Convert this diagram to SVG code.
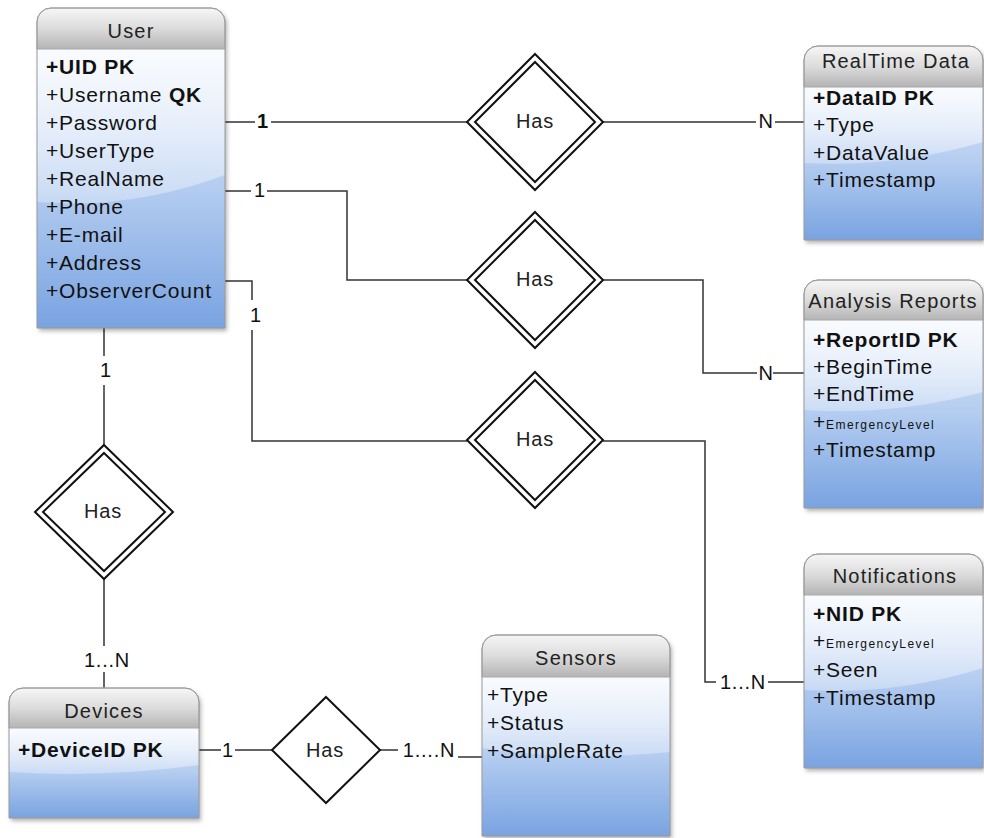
<svg xmlns="http://www.w3.org/2000/svg" width="984" height="838" viewBox="0 0 984 838">
<defs>
<linearGradient id="gBody" x1="0" y1="0" x2="0" y2="1">
<stop offset="0" stop-color="#dfeafa"/>
<stop offset="0.5" stop-color="#b3ccf0"/>
<stop offset="1" stop-color="#79a3e1"/>
</linearGradient>
<linearGradient id="gGloss" x1="0" y1="0" x2="0" y2="1">
<stop offset="0" stop-color="#ffffff" stop-opacity="0.8"/>
<stop offset="1" stop-color="#ffffff" stop-opacity="0.3"/>
</linearGradient>
<linearGradient id="gHead" x1="0" y1="0" x2="0" y2="1">
<stop offset="0" stop-color="#f6f6f6"/>
<stop offset="0.5" stop-color="#dcdcdc"/>
<stop offset="1" stop-color="#b4b4b4"/>
</linearGradient>
<filter id="sh" x="-10%" y="-10%" width="125%" height="125%">
<feDropShadow dx="2" dy="3" stdDeviation="2" flood-color="#000" flood-opacity="0.3"/>
</filter>
<style>
text{font-family:"Liberation Sans",Arial,Helvetica,sans-serif;font-size:21px;fill:#111;letter-spacing:0.8px}
.b{font-weight:bold}
.h{text-anchor:middle;fill:#222;font-size:20px;letter-spacing:1.2px}
.sm{font-size:12px;letter-spacing:1.4px}
.m{text-anchor:middle;font-size:20px}
.has{text-anchor:middle;font-size:20px;letter-spacing:0.8px;fill:#222}
.box{fill:#fff;filter:url(#sh)}
.body{fill:url(#gBody)}
.gloss{fill:url(#gGloss)}
.head{fill:url(#gHead);stroke:#a8a8a8;stroke-width:1}
.frame{fill:none;stroke:#9a9a9a;stroke-width:1}
.c{fill:none;stroke:#333;stroke-width:1.5}
.d{fill:#fff;stroke:#111;stroke-width:2;stroke-linejoin:miter}
.di{fill:none;stroke:#111;stroke-width:2}
</style>
</defs>
<rect width="984" height="838" fill="#fff"/>

<g id="connectors">
<path class="c" d="M225,122 H255 M271,122 H467 M603,122 H756 M775,122 H804"/>
<path class="c" d="M225,191 H251 M267,191 H347 V280 H467 M603,280 H703 V373 H757 M773,373 H804"/>
<path class="c" d="M225,281 H252 V300 M252,330 V441 H467 M603,441 H705 V682 H716 M768,682 H804"/>
<path class="c" d="M104,328 V356 M104,385 V445 M104,579 V646 M104,672 V688"/>
<path class="c" d="M199,750 H221 M235,750 H272 M380,750 H398 M458,757 H482"/>
<text class="m b" x="263" y="128">1</text>
<text class="m" x="260" y="197">1</text>
<text class="m" x="256" y="322">1</text>
<text class="m" x="766" y="128">N</text>
<text class="m" x="766" y="380">N</text>
<text class="m" x="743" y="689">1...N</text>
<text class="m" x="106" y="377">1</text>
<text class="m" x="107" y="667">1...N</text>
<text class="m" x="228" y="757">1</text>
<text class="m" x="429" y="757">1....N</text>
</g>

<g id="has1">
<path class="d" d="M535,54 L603,122 L535,190 L467,122 Z"/>
<path class="di" d="M535,62 L595,122 L535,182 L475,122 Z"/>
<text class="has" x="535" y="128">Has</text>
</g>
<g id="has2">
<path class="d" d="M535,212 L603,280 L535,348 L467,280 Z"/>
<path class="di" d="M535,220 L595,280 L535,340 L475,280 Z"/>
<text class="has" x="535" y="286">Has</text>
</g>
<g id="has3">
<path class="d" d="M535,372 L603,440 L535,508 L467,440 Z"/>
<path class="di" d="M535,380 L595,440 L535,500 L475,440 Z"/>
<text class="has" x="535" y="446">Has</text>
</g>
<g id="has4">
<path class="d" d="M104,445 L173,512 L104,579 L35,512 Z"/>
<path class="di" d="M104,453 L165,512 L104,571 L43,512 Z"/>
<text class="has" x="103" y="518">Has</text>
</g>
<g id="has5">
<path class="d" d="M326,697 L380,750 L326,803 L272,750 Z"/>
<text class="has" x="325" y="757">Has</text>
</g>

<g id="user">
<path class="box" d="M37,328 V22 A14,14 0 0 1 51,8 H211 A14,14 0 0 1 225,22 V328 Z"/>
<rect class="body" x="37" y="49" width="188" height="279"/>
<path class="gloss" d="M37,49 H225 V175 Q131,210 37,202 Z"/>
<path class="head" d="M37,49 V22 A14,14 0 0 1 51,8 H211 A14,14 0 0 1 225,22 V49 Z"/>
<path class="frame" d="M37,328 V22 A14,14 0 0 1 51,8 H211 A14,14 0 0 1 225,22 V328 Z"/>
<text class="h" x="131" y="38">User</text>
<text class="b" x="46" y="74">+UID PK</text>
<text x="46" y="102">+Username <tspan class="b">QK</tspan></text>
<text x="46" y="130">+Password</text>
<text x="46" y="158">+UserType</text>
<text x="46" y="186">+RealName</text>
<text x="46" y="214">+Phone</text>
<text x="46" y="242">+E-mail</text>
<text x="46" y="270">+Address</text>
<text x="46" y="298">+ObserverCount</text>
</g>

<g id="realtime">
<path class="box" d="M804,240 V60 A14,14 0 0 1 818,46 H969 A14,14 0 0 1 983,60 V240 Z"/>
<rect class="body" x="804" y="87" width="179" height="153"/>
<path class="gloss" d="M804,87 H983 V142 Q893,168 804,163 Z"/>
<path class="head" d="M804,87 V60 A14,14 0 0 1 818,46 H969 A14,14 0 0 1 983,60 V87 Z"/>
<path class="frame" d="M804,240 V60 A14,14 0 0 1 818,46 H969 A14,14 0 0 1 983,60 V240 Z"/>
<text class="h" x="896" y="68">RealTime Data</text>
<text class="b" x="813" y="105">+DataID PK</text>
<text x="813" y="132">+Type</text>
<text x="813" y="160">+DataValue</text>
<text x="813" y="187">+Timestamp</text>
</g>

<g id="reports">
<path class="box" d="M804,508 V294 A14,14 0 0 1 818,280 H969 A14,14 0 0 1 983,294 V508 Z"/>
<rect class="body" x="804" y="320" width="179" height="188"/>
<path class="gloss" d="M804,320 H983 V392 Q893,416 804,410 Z"/>
<path class="head" d="M804,320 V294 A14,14 0 0 1 818,280 H969 A14,14 0 0 1 983,294 V320 Z"/>
<path class="frame" d="M804,508 V294 A14,14 0 0 1 818,280 H969 A14,14 0 0 1 983,294 V508 Z"/>
<text class="h" x="893" y="308">Analysis Reports</text>
<text class="b" x="813" y="347">+ReportID PK</text>
<text x="813" y="374">+BeginTime</text>
<text x="813" y="401">+EndTime</text>
<text x="813" y="429">+<tspan class="sm">EmergencyLevel</tspan></text>
<text x="813" y="457">+Timestamp</text>
</g>

<g id="notifications">
<path class="box" d="M804,768 V568 A14,14 0 0 1 818,554 H969 A14,14 0 0 1 983,568 V768 Z"/>
<rect class="body" x="804" y="595" width="179" height="173"/>
<path class="gloss" d="M804,595 H983 V668 Q893,696 804,690 Z"/>
<path class="head" d="M804,595 V568 A14,14 0 0 1 818,554 H969 A14,14 0 0 1 983,568 V595 Z"/>
<path class="frame" d="M804,768 V568 A14,14 0 0 1 818,554 H969 A14,14 0 0 1 983,568 V768 Z"/>
<text class="h" x="895" y="583">Notifications</text>
<text class="b" x="813" y="621">+NID PK</text>
<text x="813" y="648">+<tspan class="sm">EmergencyLevel</tspan></text>
<text x="813" y="677">+Seen</text>
<text x="813" y="705">+Timestamp</text>
</g>

<g id="sensors">
<path class="box" d="M482,836 V649 A14,14 0 0 1 496,635 H656 A14,14 0 0 1 670,649 V836 Z"/>
<rect class="body" x="482" y="677" width="188" height="159"/>
<path class="gloss" d="M482,677 H670 V752 Q576,762 482,748 Z"/>
<path class="head" d="M482,677 V649 A14,14 0 0 1 496,635 H656 A14,14 0 0 1 670,649 V677 Z"/>
<path class="frame" d="M482,836 V649 A14,14 0 0 1 496,635 H656 A14,14 0 0 1 670,649 V836 Z"/>
<text class="h" x="576" y="665">Sensors</text>
<text x="487" y="702">+Type</text>
<text x="487" y="730">+Status</text>
<text x="487" y="758">+SampleRate</text>
</g>

<g id="devices">
<path class="box" d="M9,818 V702 A14,14 0 0 1 23,688 H185 A14,14 0 0 1 199,702 V818 Z"/>
<rect class="body" x="9" y="728" width="190" height="90"/>
<path class="gloss" d="M9,728 H199 V765 Q104,778 9,772 Z"/>
<path class="head" d="M9,728 V702 A14,14 0 0 1 23,688 H185 A14,14 0 0 1 199,702 V728 Z"/>
<path class="frame" d="M9,818 V702 A14,14 0 0 1 23,688 H185 A14,14 0 0 1 199,702 V818 Z"/>
<text class="h" x="104" y="718">Devices</text>
<text class="b" x="18" y="757">+DeviceID PK</text>
</g>
</svg>
